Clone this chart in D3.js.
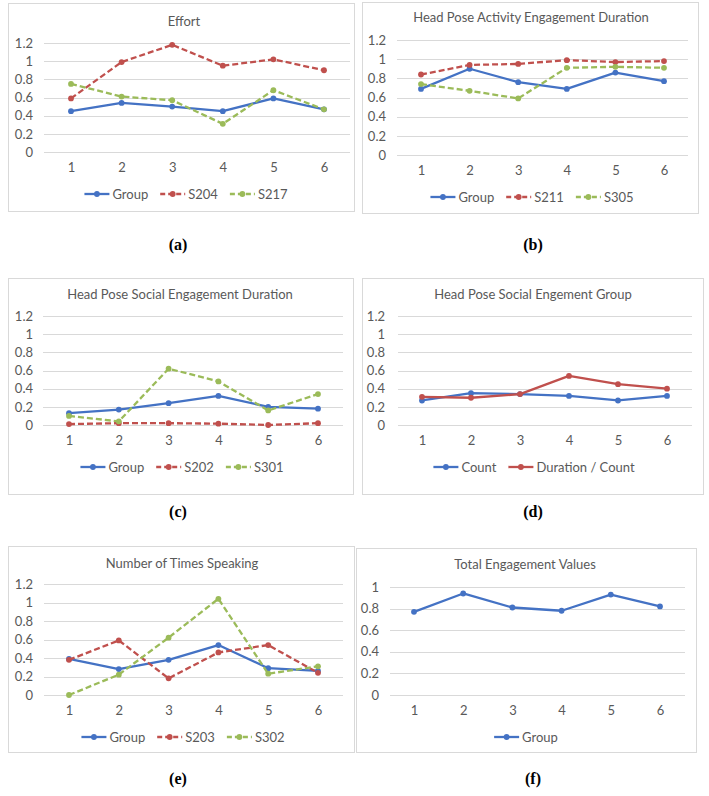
<!DOCTYPE html>
<html>
<head>
<meta charset="utf-8">
<script src="https://cdn.jsdelivr.net/npm/d3@7"></script>
<style>
  html, body { margin: 0; padding: 0; background: #fff; }
  svg { display: block; }
</style>
</head>
<body>
<svg id="chart" width="709" height="796"></svg>
<script>
// ---------------- DATA ----------------
const sessions = [1, 2, 3, 4, 5, 6];
const yTicksTo12 = [0, 0.2, 0.4, 0.6, 0.8, 1, 1.2];
const yTicksTo1 = [0, 0.2, 0.4, 0.6, 0.8, 1];

const panelTitles = [
  "Effort",
  "Head Pose Activity Engagement Duration",
  "Head Pose Social Engagement Duration",
  "Head Pose Social Engement Group",
  "Number of Times Speaking",
  "Total Engagement Values"
];
const panelLetters = ["(a)", "(b)", "(c)", "(d)", "(e)", "(f)"];

const effortGroup = [0.45, 0.54, 0.50, 0.45, 0.59, 0.47];
const effortS204  = [0.59, 0.99, 1.18, 0.95, 1.02, 0.90];
const effortS217  = [0.75, 0.61, 0.57, 0.31, 0.68, 0.47];

const activityGroup = [0.69, 0.90, 0.76, 0.69, 0.86, 0.77];
const activityS211  = [0.84, 0.94, 0.95, 0.99, 0.97, 0.98];
const activityS305  = [0.74, 0.67, 0.59, 0.91, 0.92, 0.91];

const socialGroup = [0.13, 0.17, 0.24, 0.32, 0.20, 0.18];
const socialS202  = [0.01, 0.02, 0.02, 0.015, 0.0, 0.02];
const socialS301  = [0.10, 0.04, 0.62, 0.48, 0.16, 0.34];

const socialCount            = [0.27, 0.35, 0.34, 0.32, 0.27, 0.32];
const socialDurationPerCount = [0.31, 0.30, 0.34, 0.54, 0.45, 0.40];

const speakingGroup = [0.39, 0.28, 0.38, 0.54, 0.29, 0.26];
const speakingS203  = [0.38, 0.59, 0.18, 0.46, 0.54, 0.24];
const speakingS302  = [0.00, 0.22, 0.62, 1.04, 0.23, 0.31];

const totalGroup = [0.77, 0.94, 0.81, 0.78, 0.93, 0.82];

// ---------------- STYLE / LAYOUT ----------------
const BLUE = "#4472C4", RED = "#C0504D", GREEN = "#9BBB59";
const TEXT = "#595959", GRID = "#d9d9d9", BORDER = "#d9d9d9";
const FONT = "Lato, 'Open Sans', sans-serif";

const panels = [
  { box: [8, 3, 354, 211], x: [71, 324], grid: [44, 350], y: [152, 43], ymax: 1.2, ticks: yTicksTo12,
    titleX: 184, titleY: 21, tickRight: 33, xLabY: 170, legY: 194, legX: 186,
    series: [
      { name: "Group", values: effortGroup, color: BLUE, dash: null },
      { name: "S204", values: effortS204, color: RED, dash: "6,3" },
      { name: "S217", values: effortS217, color: GREEN, dash: "6,3" } ],
    letterX: 178, letterY: 244 },
  { box: [362, 2, 698, 213], x: [421, 664], grid: [397, 688], y: [155, 40], ymax: 1.2, ticks: yTicksTo12,
    titleX: 531, titleY: 17, tickRight: 386, xLabY: 173, legY: 197, legX: 532,
    series: [
      { name: "Group", values: activityGroup, color: BLUE, dash: null },
      { name: "S211", values: activityS211, color: RED, dash: "6,3" },
      { name: "S305", values: activityS305, color: GREEN, dash: "6,3" } ],
    letterX: 533, letterY: 244 },
  { box: [8, 278, 353, 494], x: [69, 318], grid: [43, 343], y: [425, 316], ymax: 1.2, ticks: yTicksTo12,
    titleX: 180, titleY: 294, tickRight: 33, xLabY: 443, legY: 467, legX: 182,
    series: [
      { name: "Group", values: socialGroup, color: BLUE, dash: null },
      { name: "S202", values: socialS202, color: RED, dash: "6,3" },
      { name: "S301", values: socialS301, color: GREEN, dash: "6,3" } ],
    letterX: 178, letterY: 511 },
  { box: [362, 278, 703, 494], x: [422, 667], grid: [398, 692], y: [425, 316], ymax: 1.2, ticks: yTicksTo12,
    titleX: 533, titleY: 294, tickRight: 385, xLabY: 443, legY: 467, legX: 534,
    series: [
      { name: "Count", values: socialCount, color: BLUE, dash: null },
      { name: "Duration / Count", values: socialDurationPerCount, color: RED, dash: null } ],
    letterX: 533, letterY: 511 },
  { box: [8, 546, 354, 752], x: [69, 318], grid: [44, 343], y: [695, 584], ymax: 1.2, ticks: yTicksTo12,
    titleX: 182, titleY: 563, tickRight: 33, xLabY: 713, legY: 737, legX: 183,
    series: [
      { name: "Group", values: speakingGroup, color: BLUE, dash: null },
      { name: "S203", values: speakingS203, color: RED, dash: "6,3" },
      { name: "S302", values: speakingS302, color: GREEN, dash: "6,3" } ],
    letterX: 178, letterY: 778 },
  { box: [356, 548, 696, 752], x: [414, 660], grid: [390, 685], y: [695, 587], ymax: 1.0, ticks: yTicksTo1,
    titleX: 525, titleY: 564, tickRight: 379, xLabY: 713, legY: 737, legX: 526,
    series: [
      { name: "Group", values: totalGroup, color: BLUE, dash: null } ],
    letterX: 533, letterY: 778 }
];

const svg = d3.select("#chart");
const fmt = d => String(+d.toFixed(1));

panels.forEach((p, i) => {
  const g = svg.append("g");
  const [bx0, by0, bx1, by1] = p.box;
  g.append("rect")
    .attr("x", bx0 + 0.5).attr("y", by0 + 0.5)
    .attr("width", bx1 - bx0).attr("height", by1 - by0)
    .attr("fill", "#fff").attr("stroke", BORDER).attr("stroke-width", 1);

  const x = d3.scalePoint().domain(sessions).range(p.x);
  const y = d3.scaleLinear().domain([0, p.ymax]).range(p.y);

  // title
  g.append("text")
    .attr("x", p.titleX).attr("y", p.titleY)
    .attr("text-anchor", "middle").attr("dominant-baseline", "central")
    .attr("font-family", FONT).attr("font-size", 13).attr("fill", TEXT)
    .text(panelTitles[i]);

  // gridlines
  g.append("g").selectAll("line").data(p.ticks).join("line")
    .attr("x1", p.grid[0]).attr("x2", p.grid[1])
    .attr("y1", d => Math.round(y(d)) + 0.5).attr("y2", d => Math.round(y(d)) + 0.5)
    .attr("stroke", GRID).attr("stroke-width", 1);

  // y axis labels
  const yAxis = d3.axisLeft(y).tickValues(p.ticks).tickFormat(fmt).tickSize(0).tickPadding(0);
  const ya = g.append("g").attr("transform", `translate(${p.tickRight},0)`).call(yAxis);
  ya.select(".domain").remove();
  ya.selectAll("text").attr("font-family", FONT).attr("font-size", 13).attr("fill", TEXT);

  // x axis labels
  const xAxis = d3.axisBottom(x).tickSize(0).tickPadding(0);
  const xa = g.append("g").attr("transform", `translate(0,${p.xLabY - 7.5})`).call(xAxis);
  xa.select(".domain").remove();
  xa.selectAll("text").attr("font-family", FONT).attr("font-size", 13).attr("fill", TEXT);

  // series
  const line = d3.line().x((d, j) => x(sessions[j])).y(d => y(d));
  p.series.forEach(s => {
    g.append("path").datum(s.values)
      .attr("d", line).attr("fill", "none")
      .attr("stroke", s.color).attr("stroke-width", 2.3)
      .attr("stroke-dasharray", s.dash)
      .attr("stroke-linejoin", "round");
    g.append("g").selectAll("circle").data(s.values).join("circle")
      .attr("cx", (d, j) => x(sessions[j])).attr("cy", d => y(d))
      .attr("r", 2.9).attr("fill", s.color);
  });

  // legend
  const leg = g.append("g");
  let cx = 0;
  p.series.forEach((s, k) => {
    const it = leg.append("g").attr("transform", `translate(${cx},0)`);
    it.append("line").attr("x1", 0).attr("x2", 25).attr("y1", 0).attr("y2", 0)
      .attr("stroke", s.color).attr("stroke-width", 2.3).attr("stroke-dasharray", s.dash ? "5,3" : null);
    it.append("circle").attr("cx", 12.5).attr("cy", 0).attr("r", 2.9).attr("fill", s.color);
    const t = it.append("text").attr("x", 28).attr("y", 0)
      .attr("dominant-baseline", "central")
      .attr("font-family", FONT).attr("font-size", 13).attr("fill", TEXT)
      .text(s.name);
    cx += 28 + t.node().getComputedTextLength() + 12;
  });
  const legW = cx - 12;
  leg.attr("transform", `translate(${p.legX - legW / 2},${p.legY})`);

  // panel letter
  svg.append("text")
    .attr("x", p.letterX).attr("y", p.letterY)
    .attr("text-anchor", "middle").attr("dominant-baseline", "central")
    .attr("font-family", "'Liberation Serif', 'Times New Roman', serif")
    .attr("font-weight", "bold").attr("font-size", 16).attr("fill", "#000")
    .text(panelLetters[i]);
});
</script>
</body>
</html>
